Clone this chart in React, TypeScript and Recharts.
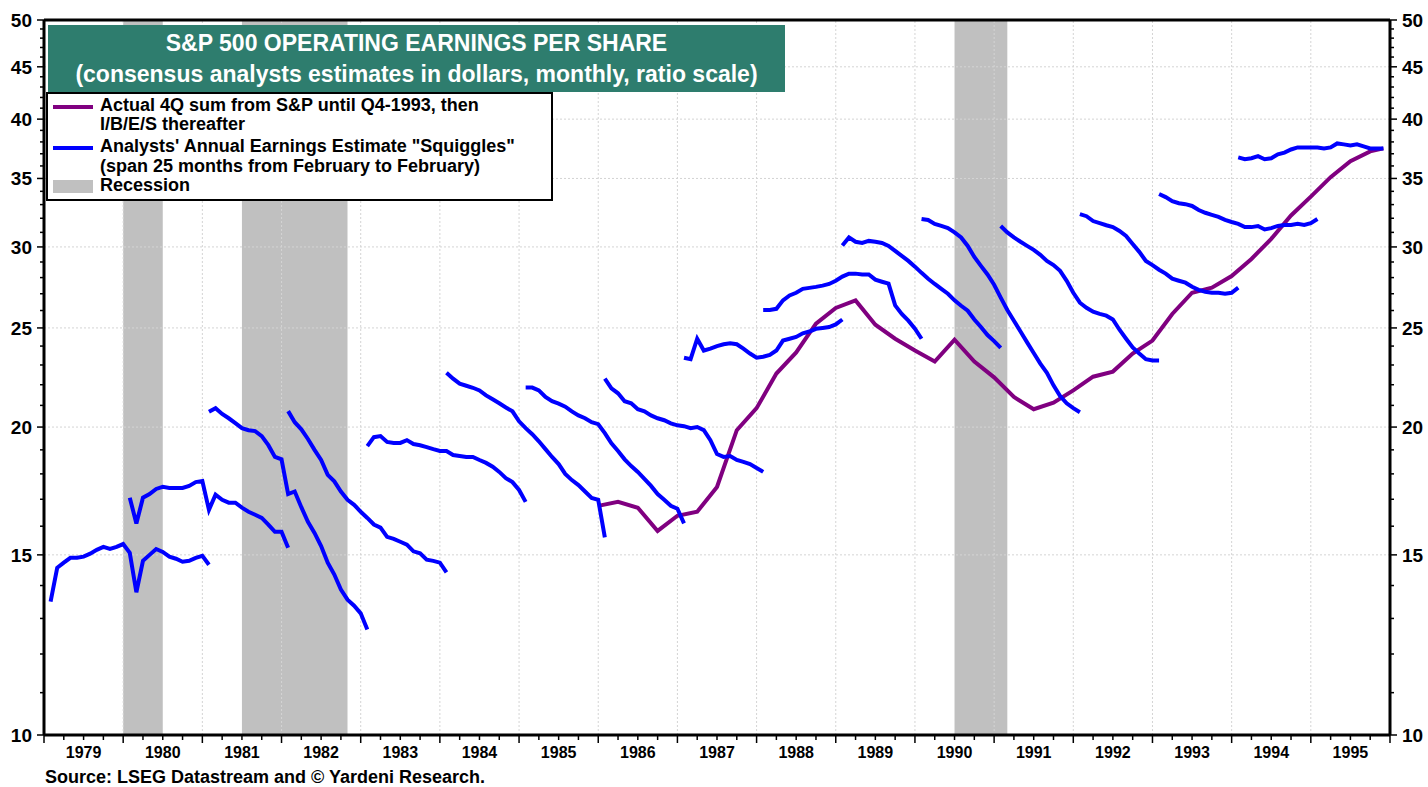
import { ComposedChart, Line, XAxis, YAxis, ReferenceLine, ReferenceArea } from 'recharts';

const FONT = '"Liberation Sans", Arial, Helvetica, sans-serif';
const FIRST_YEAR = 1979; // month index 0 = Jan 1979

// analysts' annual estimate "squiggles", monthly, 25 months Feb -> Feb
const e1980 = [13.5, 14.57, 14.74, 14.9, 14.9, 14.94, 15.04, 15.17, 15.27, 15.2, 15.27, 15.37, 15.07, 13.79, 14.8, 15.0, 15.2, 15.1, 14.94, 14.87, 14.77, 14.8, 14.9, 14.97, 14.67];
const e1981 = [17.06, 16.1, 17.06, 17.2, 17.4, 17.48, 17.44, 17.44, 17.44, 17.52, 17.67, 17.71, 16.6, 17.18, 16.98, 16.87, 16.87, 16.68, 16.53, 16.42, 16.3, 16.06, 15.8, 15.8, 15.24];
const e1982 = [20.7, 20.87, 20.6, 20.4, 20.18, 19.95, 19.86, 19.82, 19.6, 19.2, 18.7, 18.6, 17.2, 17.3, 16.7, 16.16, 15.76, 15.3, 14.74, 14.35, 13.87, 13.56, 13.38, 13.15, 12.68];
const e1983 = [20.73, 20.22, 19.9, 19.47, 19.0, 18.57, 17.96, 17.7, 17.3, 16.98, 16.79, 16.53, 16.3, 16.06, 15.95, 15.62, 15.55, 15.45, 15.35, 15.12, 15.05, 14.84, 14.8, 14.74, 14.42];
const e1984 = [19.16, 19.55, 19.6, 19.34, 19.3, 19.3, 19.42, 19.25, 19.2, 19.12, 19.03, 18.95, 18.95, 18.78, 18.74, 18.7, 18.7, 18.57, 18.45, 18.29, 18.08, 17.83, 17.67, 17.36, 16.9];
const e1985 = [22.6, 22.3, 22.05, 21.95, 21.85, 21.72, 21.48, 21.29, 21.1, 20.9, 20.72, 20.26, 19.95, 19.68, 19.37, 19.03, 18.7, 18.4, 18.0, 17.75, 17.55, 17.3, 17.05, 16.98, 15.6];
const e1986 = [21.86, 21.86, 21.72, 21.4, 21.2, 21.08, 20.94, 20.72, 20.53, 20.4, 20.22, 20.13, 19.73, 19.28, 18.95, 18.6, 18.32, 18.08, 17.8, 17.52, 17.2, 16.98, 16.75, 16.64, 16.1];
const e1987 = [22.3, 21.82, 21.58, 21.2, 21.1, 20.82, 20.72, 20.53, 20.4, 20.31, 20.17, 20.08, 20.04, 19.95, 20.0, 19.86, 19.42, 18.82, 18.7, 18.74, 18.57, 18.49, 18.4, 18.24, 18.08];
const e1988 = [23.38, 23.3, 24.4, 23.76, 23.86, 24.0, 24.1, 24.15, 24.1, 23.86, 23.6, 23.38, 23.43, 23.53, 23.76, 24.3, 24.4, 24.5, 24.7, 24.8, 24.95, 25.0, 25.05, 25.2, 25.48];
const e1989 = [26.03, 26.03, 26.1, 26.6, 26.9, 27.06, 27.3, 27.36, 27.42, 27.5, 27.6, 27.8, 28.06, 28.25, 28.25, 28.2, 28.2, 27.87, 27.74, 27.62, 26.3, 25.8, 25.41, 24.96, 24.4];
const e1990 = [30.1, 30.65, 30.35, 30.27, 30.41, 30.35, 30.27, 30.07, 29.73, 29.4, 29.07, 28.7, 28.3, 27.93, 27.6, 27.3, 27.0, 26.6, 26.28, 25.99, 25.48, 25.05, 24.6, 24.27, 23.9];
const e1991 = [31.95, 31.88, 31.6, 31.45, 31.3, 31.0, 30.65, 30.07, 29.33, 28.75, 28.2, 27.55, 26.77, 26.03, 25.41, 24.8, 24.2, 23.63, 23.07, 22.6, 21.97, 21.45, 21.1, 20.87, 20.68];
const e1992 = [31.45, 31.0, 30.65, 30.35, 30.07, 29.8, 29.47, 29.07, 28.8, 28.43, 27.8, 27.06, 26.46, 26.16, 25.93, 25.8, 25.7, 25.48, 24.9, 24.4, 23.93, 23.6, 23.3, 23.23, 23.23];
const e1993 = [32.3, 32.15, 31.8, 31.65, 31.5, 31.37, 31.1, 30.75, 30.2, 29.67, 29.07, 28.8, 28.5, 28.25, 27.93, 27.8, 27.68, 27.43, 27.24, 27.12, 27.06, 27.06, 27.0, 27.06, 27.37];
const e1994 = [33.8, 33.56, 33.26, 33.1, 33.03, 32.9, 32.6, 32.4, 32.25, 32.1, 31.88, 31.73, 31.6, 31.37, 31.37, 31.45, 31.2, 31.3, 31.45, 31.52, 31.52, 31.6, 31.52, 31.65, 31.95];
const e1995 = [36.7, 36.55, 36.63, 36.8, 36.55, 36.63, 36.95, 37.1, 37.36, 37.53, 37.53, 37.53, 37.53, 37.45, 37.53, 37.87, 37.79, 37.7, 37.79, 37.62, 37.45, 37.45, 37.45];

// first month (index from Jan 1979) of each squiggle
const squiggleStarts = [1, 13, 25, 37, 49, 61, 73, 85, 97, 109, 121, 133, 145, 157, 169, 181];
const squiggleValues = [e1980, e1981, e1982, e1983, e1984, e1985, e1986, e1987, e1988, e1989, e1990, e1991, e1992, e1993, e1994, e1995];

// actual 4Q sum
const actualMonths = [84, 87, 90, 93, 96, 99, 102, 105, 108, 111, 114, 117, 120, 123, 126, 129, 132, 135, 138, 141, 144, 147, 150, 153, 156, 159, 162, 165, 168, 171, 174, 177, 180, 183, 186, 189, 192, 195, 198, 201, 203];
const actualValues = [16.75, 16.9, 16.68, 15.83, 16.38, 16.53, 17.48, 19.86, 20.87, 22.56, 23.66, 25.24, 26.15, 26.6, 25.18, 24.4, 23.76, 23.18, 24.35, 23.18, 22.37, 21.4, 20.82, 21.13, 21.72, 22.4, 22.66, 23.6, 24.3, 25.8, 27.06, 27.37, 28.1, 29.2, 30.55, 32.2, 33.6, 35.1, 36.38, 37.2, 37.45];

// recessions [start, end] in month index
const recessions = [[12, 18], [30, 46], [138, 146]];

const yTicks = Array.from({ length: 41 }, (_, i) => 10 + i);
const gridY = [15, 20, 25, 30, 35, 40, 45];
const xTicks = Array.from({ length: 69 }, (_, i) => i * 3);
const gridX = Array.from({ length: 16 }, (_, i) => (i + 1) * 12);

const squiggles = squiggleStarts.map((start, i) => squiggleValues[i].map((v, j) => ({ m: start + j, v })));
const actual = actualMonths.map((m, i) => ({ m, v: actualValues[i] }));

function XTick(props: any) {
  const { x, y, payload } = props;
  const m = payload.value;
  return (
    <g>
      <line x1={x} x2={x} y1={y} y2={y + (m % 12 === 0 ? 8 : 5)} stroke="#000" strokeWidth={1.5} />
      {m % 12 === 6 && (
        <text x={x} y={y + 23} textAnchor="middle" fontSize={16} fontWeight="bold" fontFamily={FONT} fill="#000">
          {FIRST_YEAR + Math.floor(m / 12)}
        </text>
      )}
    </g>
  );
}

function LeftTick(props: any) {
  const { x, y, payload } = props;
  const major = payload.value % 5 === 0;
  return (
    <g>
      <line x1={x - (major ? 7 : 4)} x2={x} y1={y} y2={y} stroke="#000" strokeWidth={1.5} />
      {major && (
        <text x={x - 12} y={y + 7} textAnchor="end" fontSize={19} fontWeight="bold" fontFamily={FONT} fill="#000">
          {payload.value}
        </text>
      )}
    </g>
  );
}

function RightTick(props: any) {
  const { x, y, payload } = props;
  const major = payload.value % 5 === 0;
  return (
    <g>
      <line x1={x} x2={x + (major ? 7 : 4)} y1={y} y2={y} stroke="#000" strokeWidth={1.5} />
      {major && (
        <text x={x + 12} y={y + 7} textAnchor="start" fontSize={19} fontWeight="bold" fontFamily={FONT} fill="#000">
          {payload.value}
        </text>
      )}
    </g>
  );
}

export default function App() {
  return (
    <div style={{ position: 'absolute', left: 0, top: 0, width: 1428, height: 787, background: '#fff', fontFamily: FONT }}>
      <ComposedChart width={1428} height={787} margin={{ top: 20, right: 0, bottom: 0, left: 0 }}>
        <XAxis
          dataKey="m"
          type="number"
          domain={[0, 204]}
          allowDataOverflow
          ticks={xTicks}
          interval={0}
          tick={<XTick />}
          tickLine={false}
          tickSize={0}
          tickMargin={0}
          height={52}
          axisLine={{ stroke: '#000', strokeWidth: 3 }}
        />
        <YAxis
          yAxisId="l"
          orientation="left"
          scale="log"
          domain={[10, 50]}
          allowDataOverflow
          ticks={yTicks}
          interval={0}
          width={44}
          tick={<LeftTick />}
          tickLine={false}
          tickSize={0}
          tickMargin={0}
          axisLine={{ stroke: '#000', strokeWidth: 3 }}
        />
        <YAxis
          yAxisId="r"
          orientation="right"
          scale="log"
          domain={[10, 50]}
          allowDataOverflow
          ticks={yTicks}
          interval={0}
          width={38}
          tick={<RightTick />}
          tickLine={false}
          tickSize={0}
          tickMargin={0}
          axisLine={{ stroke: '#000', strokeWidth: 3 }}
        />
        {gridY.map((v) => (
          <ReferenceLine key={'gy' + v} yAxisId="l" y={v} stroke="#d4d4d4" strokeDasharray="2 2" />
        ))}
        {gridX.map((m) => (
          <ReferenceLine key={'gx' + m} yAxisId="l" x={m} stroke="#d4d4d4" strokeDasharray="2 2" />
        ))}
        {recessions.map(([a, b]) => (
          <ReferenceArea key={'r' + a} yAxisId="l" x1={a} x2={b} y1={10} y2={50} fill="#c0c0c0" fillOpacity={1} stroke="none" />
        ))}
        <ReferenceLine yAxisId="l" y={50} stroke="#000" strokeWidth={3} />
        <Line
          yAxisId="l"
          data={actual}
          dataKey="v"
          stroke="#800080"
          strokeWidth={4}
          dot={false}
          activeDot={false}
          isAnimationActive={false}
        />
        {squiggles.map((d, i) => (
          <Line
            key={'s' + i}
            yAxisId="l"
            data={d}
            dataKey="v"
            stroke="#0000ff"
            strokeWidth={4}
            dot={false}
            activeDot={false}
            isAnimationActive={false}
          />
        ))}
      </ComposedChart>

      <div
        style={{
          position: 'absolute', left: 48, top: 25, width: 737, height: 67, background: '#2e7d6e',
          color: '#fff', fontWeight: 'bold', fontSize: 23, lineHeight: '31px', textAlign: 'center', paddingTop: 3, boxSizing: 'border-box',
        }}
      >
        <div>S&amp;P 500 OPERATING EARNINGS PER SHARE</div>
        <div>(consensus analysts estimates in dollars, monthly, ratio scale)</div>
      </div>

      <div
        style={{
          position: 'absolute', left: 46, top: 92, width: 507, height: 109, background: '#fff',
          border: '2px solid #000', boxSizing: 'border-box', fontWeight: 'bold', fontSize: 18, color: '#000',
        }}
      >
        <div style={{ position: 'absolute', left: 5, top: 11, width: 40, height: 4, background: '#800080' }} />
        <div style={{ position: 'absolute', left: 52, top: 1, lineHeight: '20px' }}>Actual 4Q sum from S&amp;P until Q4-1993, then</div>
        <div style={{ position: 'absolute', left: 52, top: 20, lineHeight: '20px' }}>I/B/E/S thereafter</div>
        <div style={{ position: 'absolute', left: 5, top: 52, width: 40, height: 4, background: '#0000ff' }} />
        <div style={{ position: 'absolute', left: 52, top: 42, lineHeight: '20px' }}>Analysts' Annual Earnings Estimate "Squiggles"</div>
        <div style={{ position: 'absolute', left: 52, top: 62, lineHeight: '20px' }}>(span 25 months from February to February)</div>
        <div style={{ position: 'absolute', left: 5, top: 86, width: 40, height: 13, background: '#c0c0c0' }} />
        <div style={{ position: 'absolute', left: 52, top: 81, lineHeight: '20px' }}>Recession</div>
      </div>

      <div style={{ position: 'absolute', left: 45, top: 767, fontWeight: 'bold', fontSize: 18, lineHeight: '20px', color: '#000' }}>
        Source: LSEG Datastream and © Yardeni Research.
      </div>
    </div>
  );
}
